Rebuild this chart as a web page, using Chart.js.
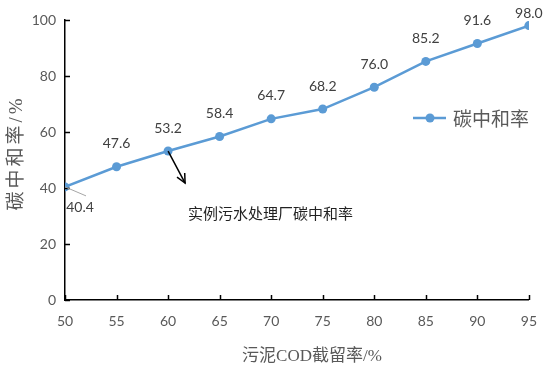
<!DOCTYPE html>
<html>
<head>
<meta charset="utf-8">
<script src="https://cdn.jsdelivr.net/npm/chart.js@4/dist/chart.umd.min.js"></script>
<style>
  html, body { margin: 0; padding: 0; background: #fff; }
  #wrap { width: 550px; height: 376px; }
</style>
</head>
<body>
<div id="wrap"><canvas id="c"></canvas></div>
<script>
const retention = [50, 55, 60, 65, 70, 75, 80, 85, 90, 95];
const neutralRate = [40.4, 47.6, 53.2, 58.4, 64.7, 68.2, 76.0, 85.2, 91.6, 98.0];
const seriesName = '碳中和率';
const noteText = '实例污水处理厂碳中和率';
const xTitle = '污泥COD截留率/%';
const yTitle = '碳中和率/%';

const blue = '#5b9bd5';
const grey = '#595959';
const tickFont = '14px Lato, "Noto Sans CJK SC", sans-serif';
const titleFont = '"Liberation Serif", "Noto Sans CJK SC", serif';

const extras = {
  id: 'extras',
  afterDatasetsDraw(chart) {
    const ctx = chart.ctx;
    const x = chart.scales.x, y = chart.scales.y;
    const area = chart.chartArea;
    ctx.save();

    // inner tick marks
    ctx.strokeStyle = '#000';
    ctx.lineWidth = 1.5;
    retention.forEach(v => {
      const px = Math.round(x.getPixelForValue(v)) + 0.5;
      ctx.beginPath(); ctx.moveTo(px, area.bottom); ctx.lineTo(px, area.bottom - 5); ctx.stroke();
    });
    for (let v = 0; v <= 100; v += 20) {
      const py = Math.round(y.getPixelForValue(v)) + 0.5;
      ctx.beginPath(); ctx.moveTo(area.left, py); ctx.lineTo(area.left + 5, py); ctx.stroke();
    }

    // data labels
    ctx.fillStyle = '#404040';
    ctx.font = tickFont;
    ctx.textAlign = 'center';
    ctx.textBaseline = 'middle';
    const meta = chart.getDatasetMeta(0);
    const last = meta.data.length - 1;
    meta.data.forEach((pt, i) => {
      const txt = neutralRate[i].toFixed(1);
      if (i === 0) {
        ctx.strokeStyle = '#a6a6a6';
        ctx.lineWidth = 1;
        ctx.beginPath(); ctx.moveTo(pt.x, pt.y); ctx.lineTo(pt.x + 21, pt.y + 9); ctx.stroke();
        ctx.fillText(txt, pt.x + 15, pt.y + 21);
      } else if (i === last) {
        ctx.fillText(txt, pt.x, pt.y - 12);
      } else {
        ctx.fillText(txt, pt.x, pt.y - 23);
      }
    });

    // arrow to annotation
    const p = meta.data[2];
    const ex = p.x + 17, ey = p.y + 32;
    ctx.strokeStyle = '#000';
    ctx.lineWidth = 1.5;
    ctx.beginPath(); ctx.moveTo(p.x, p.y); ctx.lineTo(ex, ey); ctx.stroke();
    const ang = Math.atan2(ey - p.y, ex - p.x);
    ctx.beginPath();
    ctx.moveTo(ex - 10 * Math.cos(ang - 0.45), ey - 10 * Math.sin(ang - 0.45));
    ctx.lineTo(ex, ey);
    ctx.lineTo(ex - 10 * Math.cos(ang + 0.45), ey - 10 * Math.sin(ang + 0.45));
    ctx.stroke();

    ctx.fillStyle = '#222';
    ctx.font = '15px "Noto Sans CJK SC", sans-serif';
    ctx.textAlign = 'left';
    ctx.fillText(noteText, 188, 213);

    // legend inside plot
    ctx.strokeStyle = blue;
    ctx.lineWidth = 2.5;
    ctx.beginPath(); ctx.moveTo(413, 118); ctx.lineTo(446, 118); ctx.stroke();
    ctx.fillStyle = blue;
    ctx.beginPath(); ctx.arc(430, 118, 4.5, 0, Math.PI * 2); ctx.fill();
    ctx.fillStyle = grey;
    ctx.font = '19px "Noto Sans CJK SC", sans-serif';
    ctx.fillText(seriesName, 453, 119);

    // axis titles
    ctx.fillStyle = grey;
    ctx.textAlign = 'center';
    ctx.font = '17px ' + titleFont;
    ctx.fillText(xTitle, 312, 357);
    ctx.translate(17, 153);
    ctx.rotate(-Math.PI / 2);
    ctx.font = '19px ' + titleFont;
    ctx.letterSpacing = '3px';
    ctx.fillText(yTitle, 0, 0);

    ctx.restore();
  }
};

new Chart(document.getElementById('c'), {
  type: 'line',
  data: {
    datasets: [{
      label: seriesName,
      data: retention.map((r, i) => ({ x: r, y: neutralRate[i] })),
      borderColor: blue,
      backgroundColor: blue,
      borderWidth: 2.5,
      pointRadius: 4.5,
      pointBackgroundColor: blue,
      pointBorderWidth: 0,
      tension: 0
    }]
  },
  options: {
    responsive: true,
    maintainAspectRatio: false,
    animation: false,
    layout: { padding: { top: 20, right: 17, left: 0, bottom: 0 } },
    plugins: { legend: { display: false }, tooltip: { enabled: false } },
    scales: {
      x: {
        type: 'linear', min: 50, max: 95,
        afterFit(s) { s.height = 76; },
        border: { color: '#000', width: 1.5 },
        grid: { display: false, drawTicks: false },
        ticks: { stepSize: 5, color: grey, padding: 13, font: { family: 'Lato, sans-serif', size: 14 } }
      },
      y: {
        min: 0, max: 100,
        afterFit(s) { s.width = 65; },
        border: { color: '#000', width: 1.5 },
        grid: { display: false, drawTicks: false },
        ticks: { stepSize: 20, color: grey, padding: 9, font: { family: 'Lato, sans-serif', size: 14 } }
      }
    }
  },
  plugins: [extras]
});
</script>
</body>
</html>
